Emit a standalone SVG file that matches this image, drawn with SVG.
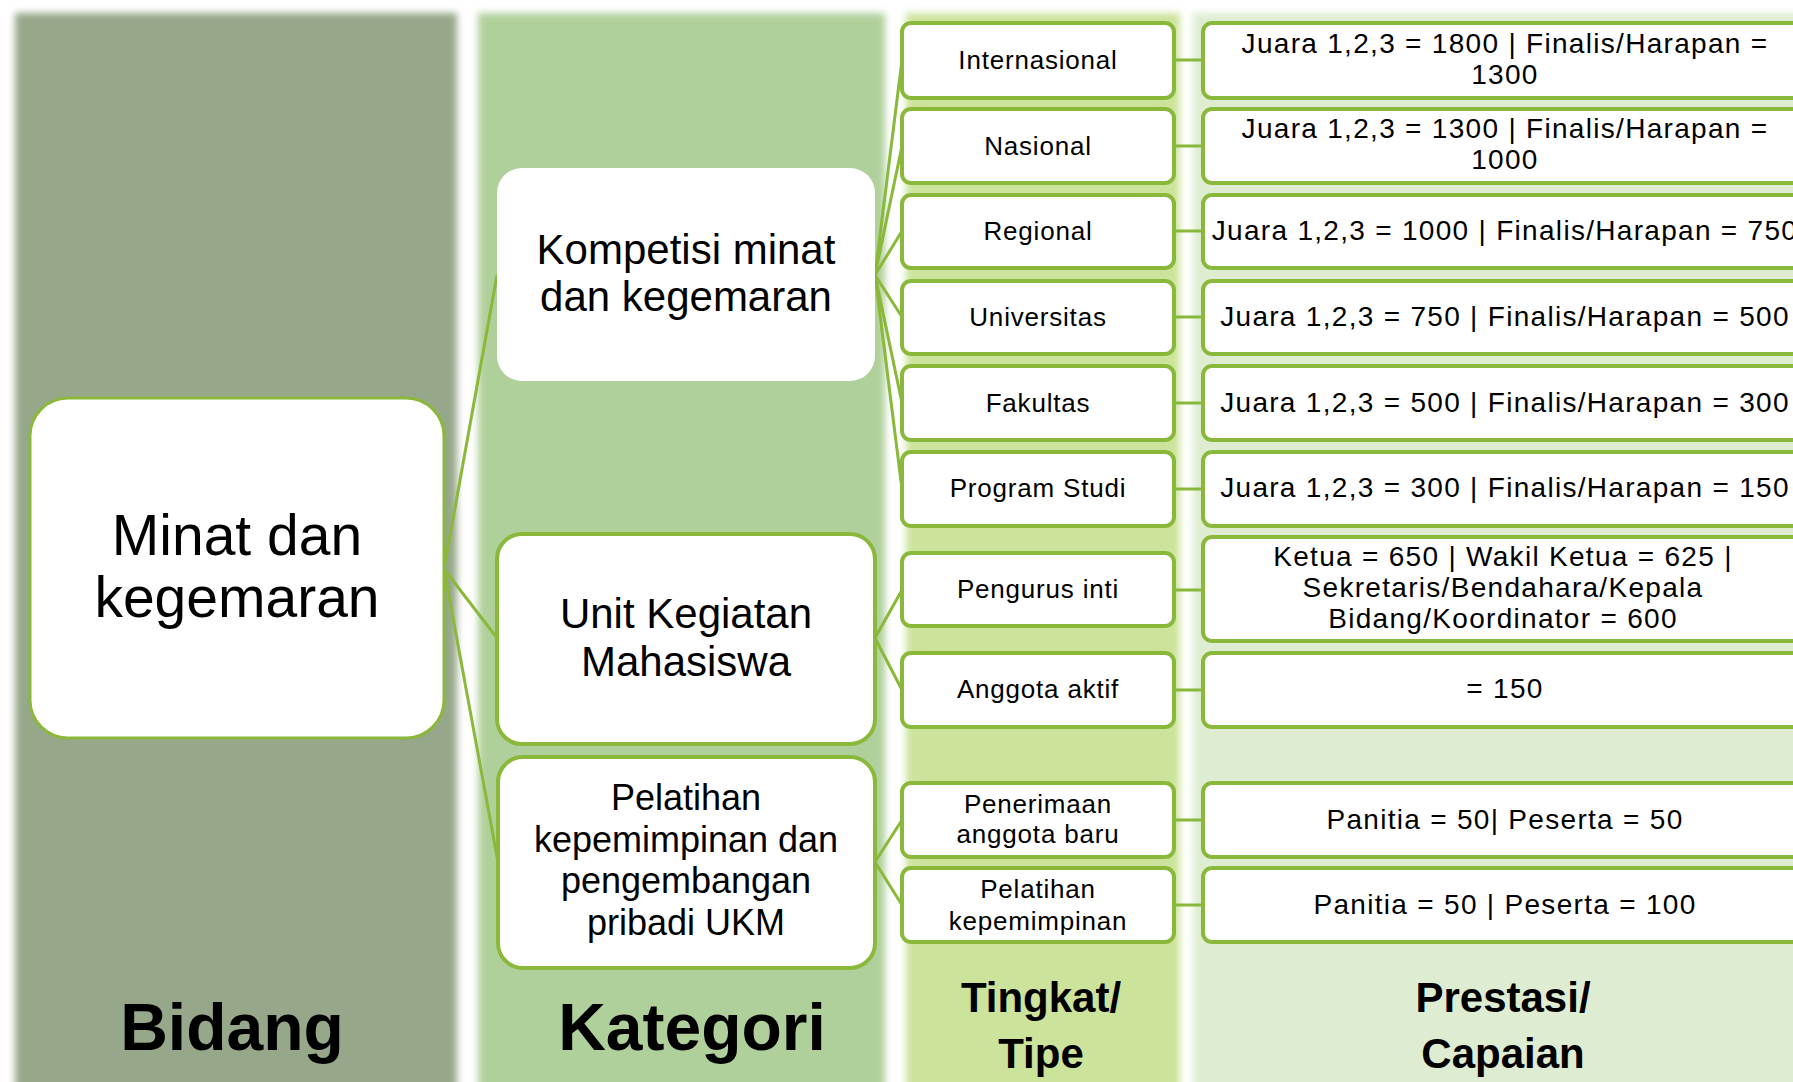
<svg xmlns="http://www.w3.org/2000/svg" width="1793" height="1082" viewBox="0 0 1793 1082">
<defs>
<filter id="soft" x="-5%" y="-5%" width="110%" height="110%"><feGaussianBlur stdDeviation="3.5"/></filter>
<style>
.col{filter:url(#soft)}
.con{stroke:#8AB83A;stroke-width:3;fill:none}
.cat{fill:#fff;stroke:#8AB83A;stroke-width:4}
.tb{fill:#fff;stroke:#8AB83A;stroke-width:4}
text{font-family:"Liberation Sans",Arial,sans-serif;fill:#000;text-anchor:middle}
.big{font-size:57px}
.mid{font-size:42px}
.pel{font-size:36px}
.lab{font-size:26px;letter-spacing:0.8px}
.val{font-size:28px;letter-spacing:1.3px}
.hd1{font-size:66px;font-weight:bold}
.hd2{font-size:42px;font-weight:bold}
</style>
</defs>
<rect width="1793" height="1082" fill="#fff"/>
<g id="columns">
<rect class="col" x="15" y="13" width="442" height="1100" fill="#97A78A"/>
<rect class="col" x="478" y="13" width="407" height="1100" fill="#B0D09B"/>
<rect class="col" x="906" y="13" width="274" height="1100" fill="#CCE39B"/>
<rect class="col" x="1193" y="13" width="640" height="1100" fill="#DEEDD2"/>
</g>
<g id="headers">
<text class="hd1" x="232" y="1050">Bidang</text>
<text class="hd1" x="692" y="1050">Kategori</text>
<text class="hd2" x="1041" y="1012">Tingkat/</text>
<text class="hd2" x="1041" y="1068">Tipe</text>
<text class="hd2" x="1503" y="1012">Prestasi/</text>
<text class="hd2" x="1503" y="1068">Capaian</text>
</g>
<g id="connectors">
<line class="con" x1="444" y1="569" x2="497" y2="275"/>
<line class="con" x1="444" y1="569" x2="497" y2="638"/>
<line class="con" x1="444" y1="569" x2="498" y2="862"/>
<line class="con" x1="875" y1="275" x2="902" y2="60"/>
<line class="con" x1="875" y1="275" x2="902" y2="146"/>
<line class="con" x1="875" y1="275" x2="902" y2="231"/>
<line class="con" x1="875" y1="275" x2="902" y2="317"/>
<line class="con" x1="875" y1="275" x2="902" y2="403"/>
<line class="con" x1="875" y1="275" x2="902" y2="489"/>
<line class="con" x1="875" y1="638" x2="902" y2="590"/>
<line class="con" x1="875" y1="638" x2="902" y2="690"/>
<line class="con" x1="875" y1="862" x2="902" y2="820"/>
<line class="con" x1="875" y1="862" x2="902" y2="905"/>
<line class="con" x1="1174" y1="60" x2="1203" y2="60"/>
<line class="con" x1="1174" y1="146" x2="1203" y2="146"/>
<line class="con" x1="1174" y1="231" x2="1203" y2="231"/>
<line class="con" x1="1174" y1="317" x2="1203" y2="317"/>
<line class="con" x1="1174" y1="403" x2="1203" y2="403"/>
<line class="con" x1="1174" y1="489" x2="1203" y2="489"/>
<line class="con" x1="1174" y1="590" x2="1203" y2="590"/>
<line class="con" x1="1174" y1="690" x2="1203" y2="690"/>
<line class="con" x1="1174" y1="820" x2="1203" y2="820"/>
<line class="con" x1="1174" y1="905" x2="1203" y2="905"/>
</g>
<g id="node-minat">
<rect x="30" y="398" width="414" height="340" rx="38" fill="#fff" stroke="#8AB83A" stroke-width="3"/>
<text class="big" x="237" y="555">Minat dan</text>
<text class="big" x="237" y="617">kegemaran</text>
</g>
<g id="node-kompetisi">
<rect x="497" y="168" width="378" height="213" rx="25" fill="#fff"/>
<text class="mid" x="686" y="264">Kompetisi minat</text>
<text class="mid" x="686" y="311">dan kegemaran</text>
</g>
<g id="node-ukm">
<rect class="cat" x="497" y="534" width="378" height="210" rx="25"/>
<text class="mid" x="686" y="628">Unit Kegiatan</text>
<text class="mid" x="686" y="676">Mahasiswa</text>
</g>
<g id="node-pelatihan">
<rect class="cat" x="498" y="757" width="377" height="211" rx="25"/>
<text class="pel" x="686" y="810">Pelatihan</text>
<text class="pel" x="686" y="852">kepemimpinan dan</text>
<text class="pel" x="686" y="893">pengembangan</text>
<text class="pel" x="686" y="935">pribadi UKM</text>
</g>
<g id="node-internasional">
<rect class="tb" x="902" y="23" width="272" height="75" rx="9"/>
<text class="lab" x="1038" y="69">Internasional</text>
</g>
<g id="node-nasional">
<rect class="tb" x="902" y="109" width="272" height="74" rx="9"/>
<text class="lab" x="1038" y="155">Nasional</text>
</g>
<g id="node-regional">
<rect class="tb" x="902" y="195" width="272" height="73" rx="9"/>
<text class="lab" x="1038" y="240">Regional</text>
</g>
<g id="node-universitas">
<rect class="tb" x="902" y="281" width="272" height="73" rx="9"/>
<text class="lab" x="1038" y="326">Universitas</text>
</g>
<g id="node-fakultas">
<rect class="tb" x="902" y="366" width="272" height="74" rx="9"/>
<text class="lab" x="1038" y="412">Fakultas</text>
</g>
<g id="node-prodi">
<rect class="tb" x="902" y="452" width="272" height="74" rx="9"/>
<text class="lab" x="1038" y="497">Program Studi</text>
</g>
<g id="node-pengurus">
<rect class="tb" x="902" y="553" width="272" height="73" rx="9"/>
<text class="lab" x="1038" y="598">Pengurus inti</text>
</g>
<g id="node-anggota">
<rect class="tb" x="902" y="653" width="272" height="74" rx="9"/>
<text class="lab" x="1038" y="698">Anggota aktif</text>
</g>
<g id="node-penerimaan">
<rect class="tb" x="902" y="783" width="272" height="74" rx="9"/>
<text class="lab" x="1038" y="813">Penerimaan</text>
<text class="lab" x="1038" y="843">anggota baru</text>
</g>
<g id="node-pelkep">
<rect class="tb" x="902" y="868" width="272" height="74" rx="9"/>
<text class="lab" x="1038" y="898">Pelatihan</text>
<text class="lab" x="1038" y="930">kepemimpinan</text>
</g>
<g id="node-p1">
<rect class="tb" x="1203" y="23" width="605" height="75" rx="9"/>
<text class="val" x="1505" y="53">Juara 1,2,3 = 1800 | Finalis/Harapan =</text>
<text class="val" x="1505" y="84">1300</text>
</g>
<g id="node-p2">
<rect class="tb" x="1203" y="109" width="605" height="74" rx="9"/>
<text class="val" x="1505" y="138">Juara 1,2,3 = 1300 | Finalis/Harapan =</text>
<text class="val" x="1505" y="169">1000</text>
</g>
<g id="node-p3">
<rect class="tb" x="1203" y="195" width="605" height="73" rx="9"/>
<text class="val" x="1505" y="240">Juara 1,2,3 = 1000 | Finalis/Harapan = 750</text>
</g>
<g id="node-p4">
<rect class="tb" x="1203" y="281" width="605" height="73" rx="9"/>
<text class="val" x="1505" y="326">Juara 1,2,3 = 750 | Finalis/Harapan = 500</text>
</g>
<g id="node-p5">
<rect class="tb" x="1203" y="366" width="605" height="74" rx="9"/>
<text class="val" x="1505" y="412">Juara 1,2,3 = 500 | Finalis/Harapan = 300</text>
</g>
<g id="node-p6">
<rect class="tb" x="1203" y="452" width="605" height="74" rx="9"/>
<text class="val" x="1505" y="497">Juara 1,2,3 = 300 | Finalis/Harapan = 150</text>
</g>
<g id="node-p7">
<rect class="tb" x="1203" y="537" width="605" height="104" rx="9"/>
<text class="val" x="1503" y="566">Ketua = 650 | Wakil Ketua = 625 |</text>
<text class="val" x="1503" y="597">Sekretaris/Bendahara/Kepala</text>
<text class="val" x="1503" y="628">Bidang/Koordinator = 600</text>
</g>
<g id="node-p8">
<rect class="tb" x="1203" y="653" width="605" height="74" rx="9"/>
<text class="val" x="1505" y="698">= 150</text>
</g>
<g id="node-p9">
<rect class="tb" x="1203" y="783" width="605" height="74" rx="9"/>
<text class="val" x="1505" y="829">Panitia = 50| Peserta = 50</text>
</g>
<g id="node-p10">
<rect class="tb" x="1203" y="868" width="605" height="74" rx="9"/>
<text class="val" x="1505" y="914">Panitia = 50 | Peserta = 100</text>
</g>
</svg>
